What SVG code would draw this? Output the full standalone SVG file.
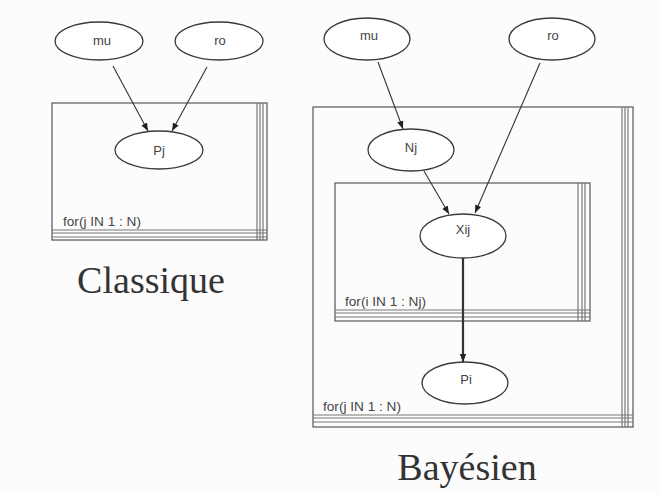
<svg xmlns="http://www.w3.org/2000/svg" width="660" height="493" viewBox="0 0 660 493">
<style>
.bg{fill:#fcfcfc}
.node ellipse{fill:#fff;stroke:#3a3a3a;stroke-width:1.3}
.node text{font-family:"Liberation Sans",Arial,sans-serif;font-size:13px;fill:#444;text-anchor:middle}
.plate rect{fill:none;stroke:#555;stroke-width:1.2}
.plate line{stroke:#777;stroke-width:1.2}
.plate text{font-family:"Liberation Sans",Arial,sans-serif;font-size:12.5px;fill:#444}
.edge{stroke:#333;stroke-width:1.1;fill:none;marker-end:url(#ah)}
.title{font-family:"Liberation Serif","Times New Roman",serif;font-size:38px;fill:#333;text-anchor:middle}
</style>
<defs>
<marker id="ah" viewBox="0 0 10 10" refX="10" refY="5" markerWidth="8" markerHeight="8" markerUnits="userSpaceOnUse" orient="auto">
<path d="M0,1 L10,5 L0,9 Z" fill="#222"/>
</marker>
</defs>
<rect class="bg" x="0" y="0" width="660" height="493"/>

<!-- Plates -->
<g id="plate-classique" class="plate">
<rect x="52" y="103" width="215" height="137"/>
<line x1="257" y1="103" x2="257" y2="240"/>
<line x1="260" y1="103" x2="260" y2="240"/>
<line x1="263" y1="103" x2="263" y2="240"/>
<line x1="52" y1="230" x2="267" y2="230"/>
<line x1="52" y1="233" x2="267" y2="233"/>
<line x1="52" y1="237" x2="267" y2="237"/>
<text x="63" y="226" textLength="78" lengthAdjust="spacingAndGlyphs">for(j IN 1 : N)</text>
</g>
<g id="plate-bayes-j" class="plate">
<rect x="313" y="107" width="320" height="320"/>
<line x1="622" y1="107" x2="622" y2="427"/>
<line x1="625" y1="107" x2="625" y2="427"/>
<line x1="628" y1="107" x2="628" y2="427"/>
<line x1="313" y1="415" x2="633" y2="415"/>
<line x1="313" y1="418" x2="633" y2="418"/>
<line x1="313" y1="422" x2="633" y2="422"/>
<text x="323" y="411" textLength="78" lengthAdjust="spacingAndGlyphs">for(j IN 1 : N)</text>
</g>
<g id="plate-bayes-i" class="plate">
<rect x="335" y="183" width="255" height="138"/>
<line x1="578" y1="183" x2="578" y2="321"/>
<line x1="582" y1="183" x2="582" y2="321"/>
<line x1="585" y1="183" x2="585" y2="321"/>
<line x1="335" y1="310" x2="590" y2="310"/>
<line x1="335" y1="313" x2="590" y2="313"/>
<line x1="335" y1="317" x2="590" y2="317"/>
<text x="345" y="306" textLength="81" lengthAdjust="spacingAndGlyphs">for(i IN 1 : Nj)</text>
</g>

<!-- Connectors -->
<g id="connectors">
<line class="edge" x1="113" y1="66" x2="148" y2="131"/>
<line class="edge" x1="207" y1="67" x2="172" y2="131"/>
<line class="edge" x1="378" y1="62" x2="403" y2="129"/>
<line class="edge" x1="540" y1="63" x2="475" y2="213"/>
<line class="edge" x1="424" y1="171" x2="449" y2="214"/>
<line class="edge" x1="463" y1="258" x2="463" y2="362" style="stroke-width:2.2"/>
</g>

<!-- Nodes -->
<g id="c-mu" class="node"><ellipse cx="99" cy="41" rx="44" ry="19"/><text x="102" y="45">mu</text></g>
<g id="c-ro" class="node"><ellipse cx="219" cy="41" rx="44" ry="19"/><text x="220" y="45">ro</text></g>
<g id="c-pj" class="node"><ellipse cx="159" cy="150" rx="44" ry="19"/><text x="159" y="155">Pj</text></g>

<g id="b-mu" class="node"><ellipse cx="367" cy="39" rx="43" ry="21"/><text x="369" y="40">mu</text></g>
<g id="b-ro" class="node"><ellipse cx="552" cy="39" rx="43" ry="21"/><text x="553" y="40">ro</text></g>
<g id="b-nj" class="node"><ellipse cx="411" cy="150" rx="43" ry="21"/><text x="411" y="152">Nj</text></g>
<g id="b-xij" class="node"><ellipse cx="463" cy="236" rx="43" ry="22"/><text x="463" y="234">Xij</text></g>
<g id="b-pi" class="node"><ellipse cx="465" cy="383" rx="43" ry="21"/><text x="466" y="384">Pi</text></g>

<text class="title" x="151" y="293">Classique</text>
<text class="title" x="467" y="480">Bayésien</text>
</svg>
